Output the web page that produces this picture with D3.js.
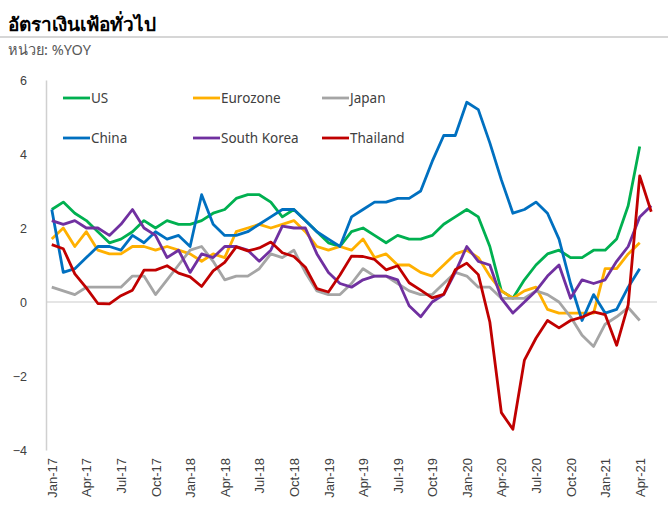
<!DOCTYPE html>
<html>
<head>
<meta charset="utf-8">
<script src="https://cdn.jsdelivr.net/npm/d3@7/dist/d3.min.js"></script>
<style>
  body { margin: 0; background: #fff; }
  svg { display: block; font-family: Tahoma, "Noto Sans", "DejaVu Sans", sans-serif; }
</style>
</head>
<body>
<svg id="chart" width="668" height="509"></svg>
<script>
// months Jan-17 .. May-21
const monthNames = ['Jan','Feb','Mar','Apr','May','Jun','Jul','Aug','Sep','Oct','Nov','Dec'];
const months = [];
for (let y = 17; y <= 21; y++) {
  for (let m = 0; m < 12; m++) {
    if (y === 21 && m > 4) break;
    months.push(monthNames[m] + '-' + y);
  }
}

const yTicks = [-4, -2, 0, 2, 4, 6];

const us = [2.5, 2.7, 2.4, 2.2, 1.9, 1.6, 1.7, 1.9, 2.2, 2.0, 2.2, 2.1,
  2.1, 2.2, 2.4, 2.5, 2.8, 2.9, 2.9, 2.7, 2.3, 2.5, 2.2, 1.9,
  1.6, 1.5, 1.9, 2.0, 1.8, 1.6, 1.8, 1.7, 1.7, 1.8, 2.1, 2.3,
  2.5, 2.3, 1.5, 0.3, 0.1, 0.6, 1.0, 1.3, 1.4, 1.2, 1.2, 1.4,
  1.4, 1.7, 2.6, 4.2];
const eurozone = [1.7, 2.0, 1.5, 1.9, 1.4, 1.3, 1.3, 1.5, 1.5, 1.4, 1.5, 1.4,
  1.3, 1.1, 1.3, 1.2, 1.9, 2.0, 2.1, 2.0, 2.1, 2.2, 1.9, 1.5,
  1.4, 1.5, 1.4, 1.7, 1.2, 1.3, 1.0, 1.0, 0.8, 0.7, 1.0, 1.3,
  1.4, 1.2, 0.7, 0.3, 0.1, 0.3, 0.4, -0.2, -0.3, -0.3, -0.3, -0.3,
  0.9, 0.9, 1.3, 1.6];
const japan = [0.4, 0.3, 0.2, 0.4, 0.4, 0.4, 0.4, 0.7, 0.7, 0.2, 0.6, 1.0,
  1.4, 1.5, 1.1, 0.6, 0.7, 0.7, 0.9, 1.3, 1.2, 1.4, 0.8, 0.3,
  0.2, 0.2, 0.5, 0.9, 0.7, 0.7, 0.5, 0.3, 0.2, 0.2, 0.5, 0.8,
  0.7, 0.4, 0.4, 0.1, 0.1, 0.1, 0.3, 0.2, 0.0, -0.4, -0.9, -1.2,
  -0.6, -0.4, -0.15, -0.5];
const china = [2.5, 0.8, 0.9, 1.2, 1.5, 1.5, 1.4, 1.8, 1.6, 1.9, 1.7, 1.8,
  1.5, 2.9, 2.1, 1.8, 1.8, 1.9, 2.1, 2.3, 2.5, 2.5, 2.2, 1.9,
  1.7, 1.5, 2.3, 2.5, 2.7, 2.7, 2.8, 2.8, 3.0, 3.8, 4.5, 4.5,
  5.4, 5.2, 4.3, 3.3, 2.4, 2.5, 2.7, 2.4, 1.7, 0.5, -0.5, 0.2,
  -0.3, -0.2, 0.4, 0.9];
const southKorea = [2.2, 2.1, 2.2, 2.0, 2.0, 1.8, 2.1, 2.5, 2.0, 1.8, 1.2, 1.4,
  0.8, 1.3, 1.2, 1.5, 1.5, 1.4, 1.1, 1.4, 2.05, 2.0, 2.0, 1.3,
  0.8, 0.5, 0.4, 0.6, 0.7, 0.7, 0.6, -0.1, -0.4, 0.0, 0.2, 0.8,
  1.5, 1.1, 1.0, 0.1, -0.3, 0.0, 0.3, 0.7, 1.0, 0.1, 0.6, 0.5,
  0.6, 1.1, 1.5, 2.3, 2.6];
const thailand = [1.55, 1.44, 0.76, 0.38, -0.04, -0.05, 0.17, 0.32, 0.86, 0.86, 0.98, 0.78,
  0.68, 0.42, 0.84, 1.07, 1.49, 1.38, 1.46, 1.62, 1.33, 1.23, 0.94, 0.36,
  0.27, 0.73, 1.24, 1.23, 1.15, 0.87, 0.98, 0.52, 0.32, 0.11, 0.21, 0.87,
  1.05, 0.74, -0.54, -2.99, -3.44, -1.57, -0.98, -0.50, -0.70, -0.50, -0.41, -0.27,
  -0.34, -1.17, -0.08, 3.41, 2.44];

const seriesNames = ['US', 'Eurozone', 'Japan', 'China', 'South Korea', 'Thailand'];
const seriesValues = [us, eurozone, japan, china, southKorea, thailand];
const colors = ['#00b050', '#ffb000', '#a5a5a5', '#0070c0', '#7030a0', '#c00000'];

const svg = d3.select('#chart');
const textCol = '#404040';

svg.append('rect').attr('width', 668).attr('height', 509).attr('fill', '#fff');

// title block
svg.append('text')
  .attr('x', 8).attr('y', 31)
  .attr('font-size', 19).attr('font-weight', 'bold')
  .attr('fill', '#000')
  .text('อัตราเงินเฟ้อทั่วไป');
svg.append('line')
  .attr('x1', 0).attr('x2', 668).attr('y1', 37).attr('y2', 37)
  .attr('stroke', '#d6d6d6').attr('stroke-width', 2);
svg.append('text')
  .attr('x', 8).attr('y', 55)
  .attr('font-size', 14.5).attr('fill', '#595959')
  .text('หน่วย: %YOY');

const x = d3.scalePoint().domain(months).range([46, 657]).padding(0.5);
const y = d3.scaleLinear().domain([-4, 6]).range([450, 80]);

// zero line
svg.append('line')
  .attr('x1', 46).attr('x2', 657)
  .attr('y1', y(0)).attr('y2', y(0))
  .attr('stroke', '#dcdcdc').attr('stroke-width', 1.5);

// y axis
const yAxis = svg.append('g')
  .attr('transform', 'translate(46,0)')
  .call(d3.axisLeft(y).tickValues(yTicks).tickSize(0).tickPadding(19).tickFormat(d3.format('d')));
yAxis.select('.domain').attr('stroke', '#d0d0d0').attr('stroke-width', 1.5);
yAxis.selectAll('text').attr('font-size', 12.5).attr('fill', textCol).attr('font-family', null);

// x axis labels (quarterly)
const xAxis = svg.append('g')
  .attr('transform', 'translate(0,452)')
  .call(d3.axisBottom(x).tickValues(months.filter((m, i) => i % 3 === 0)).tickSize(0).tickPadding(0));
xAxis.select('.domain').remove();
xAxis.selectAll('text')
  .attr('font-size', 13).attr('fill', textCol).attr('font-family', null)
  .attr('text-anchor', 'end')
  .attr('dy', '0.35em')
  .attr('transform', 'rotate(-90) translate(-6,0)')
  .attr('x', 0).attr('y', 0);

// lines
const line = d3.line()
  .x((d, i) => x(months[i]))
  .y(d => y(d));

svg.append('g').selectAll('path')
  .data(seriesValues)
  .join('path')
  .attr('d', line)
  .attr('fill', 'none')
  .attr('stroke', (d, i) => colors[i])
  .attr('stroke-width', 2.8)
  .attr('stroke-linejoin', 'round');

// legend
const legendX = [63, 193, 322];
const legendY = [98, 138];
const legend = svg.append('g').selectAll('g')
  .data(seriesNames)
  .join('g')
  .attr('transform', (d, i) => `translate(${legendX[i % 3]},${legendY[Math.floor(i / 3)]})`);
legend.append('line')
  .attr('x1', 0).attr('x2', 27)
  .attr('stroke', (d, i) => colors[i]).attr('stroke-width', 2.8);
legend.append('text')
  .attr('x', 28).attr('dy', '0.35em')
  .attr('font-size', 13.5).attr('fill', textCol)
  .text(d => d);
</script>
</body>
</html>
